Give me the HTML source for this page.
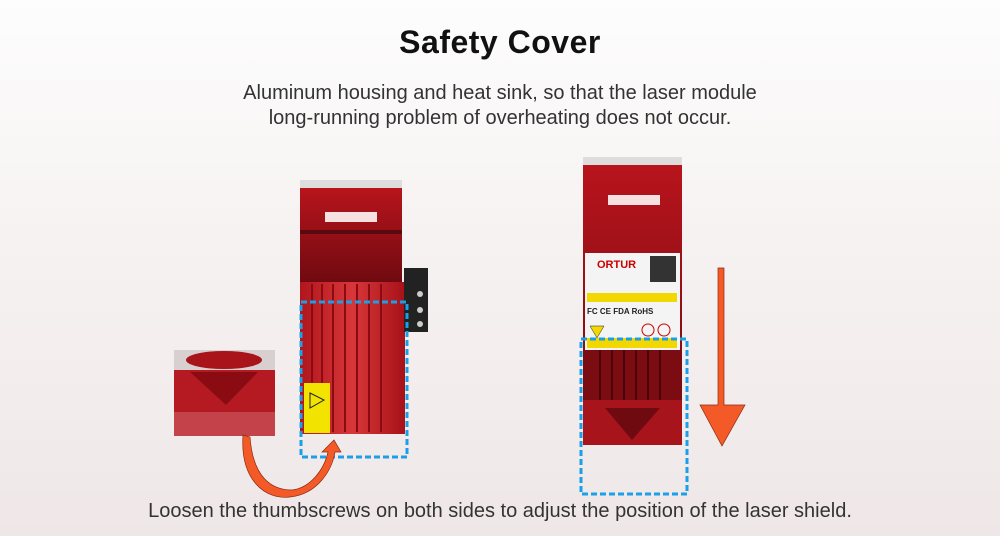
<!DOCTYPE html>
<html><head><style>
html,body{margin:0;padding:0}
body{width:1000px;height:536px;overflow:hidden;background:linear-gradient(#fdfdfd 0%,#f7f3f3 40%,#efe7e7 100%);font-family:"Liberation Sans",sans-serif;position:relative}
.t{position:absolute;left:0;width:1000px;text-align:center;color:#222}
</style></head><body>
<div class="t" style="top:24px;font-size:32px;font-weight:bold;color:#111;letter-spacing:0.5px">Safety Cover</div>
<div class="t" style="top:81px;font-size:20px;line-height:25px;color:#333">Aluminum housing and heat sink, so that the laser module<br>long-running problem of overheating does not occur.</div>
<div class="t" style="top:500px;font-size:20px;color:#333">Loosen the thumbscrews on both sides to adjust the position of the laser shield.</div>
<svg width="1000" height="536" style="position:absolute;left:0;top:0">
<defs>
<linearGradient id="hs" x1="0" x2="1"><stop offset="0" stop-color="#b0161c"/><stop offset=".5" stop-color="#d8373a"/><stop offset="1" stop-color="#a61218"/></linearGradient>
<linearGradient id="gl" x1="0" y1="0" x2="0" y2="1"><stop offset="0" stop-color="#b8141c"/><stop offset="1" stop-color="#6e0a10"/></linearGradient>
</defs>
<!-- left module -->
<rect x="300" y="180" width="102" height="10" fill="#ddd"/>
<rect x="300" y="188" width="102" height="96" fill="url(#gl)"/>
<rect x="325" y="212" width="52" height="10" fill="#f7e0e0"/>
<rect x="300" y="230" width="102" height="4" fill="#5a0a0e"/>
<rect x="300" y="282" width="105" height="152" fill="url(#hs)"/>
<g stroke="#8a0c12" stroke-width="2"><line x1="312" y1="284" x2="312" y2="432"/><line x1="322" y1="284" x2="322" y2="432"/><line x1="333" y1="284" x2="333" y2="432"/><line x1="345" y1="284" x2="345" y2="432"/><line x1="357" y1="284" x2="357" y2="432"/><line x1="369" y1="284" x2="369" y2="432"/><line x1="381" y1="284" x2="381" y2="432"/></g>
<rect x="404" y="268" width="24" height="64" fill="#222"/>
<circle cx="420" cy="294" r="3" fill="#ccc"/><circle cx="420" cy="310" r="3" fill="#ccc"/><circle cx="420" cy="324" r="3" fill="#ccc"/>
<rect x="304" y="383" width="26" height="50" fill="#f2e400"/>
<polygon points="310,393 324,400 310,408" fill="none" stroke="#222"/>
<!-- small cap -->
<rect x="174" y="350" width="101" height="86" fill="#b51a22"/>
<rect x="174" y="350" width="101" height="20" fill="#d8d0d0"/>
<ellipse cx="224" cy="360" rx="38" ry="9" fill="#a8141a"/>
<polygon points="190,372 258,372 226,405" fill="#8a0c12"/>
<rect x="174" y="412" width="101" height="24" fill="#c4424a"/>
<!-- right module -->
<rect x="583" y="157" width="99" height="10" fill="#ddd"/>
<rect x="583" y="165" width="99" height="280" fill="url(#gl)"/>
<rect x="608" y="195" width="52" height="10" fill="#f7e0e0"/>
<rect x="583" y="350" width="99" height="58" fill="#7a0c12"/>
<g stroke="#4a0508" stroke-width="2"><line x1="600" y1="350" x2="600" y2="400"/><line x1="612" y1="350" x2="612" y2="400"/><line x1="624" y1="350" x2="624" y2="400"/><line x1="636" y1="350" x2="636" y2="400"/><line x1="648" y1="350" x2="648" y2="400"/><line x1="660" y1="350" x2="660" y2="400"/></g>
<rect x="583" y="400" width="99" height="45" fill="#a8141c"/>
<polygon points="605,408 660,408 632,440" fill="#6e0a10"/>
<rect x="585" y="253" width="95" height="97" fill="#f4f4f4"/>
<rect x="587" y="293" width="90" height="9" fill="#f2d800"/>
<rect x="587" y="338" width="90" height="10" fill="#f2d800"/>
<text x="597" y="268" font-size="11" font-weight="bold" fill="#c00">ORTUR</text>
<rect x="650" y="256" width="26" height="26" fill="#333"/>
<text x="587" y="314" font-size="8" font-weight="bold" fill="#222">FC CE FDA RoHS</text>
<polygon points="597,338 590,326 604,326" fill="#f2d800" stroke="#222" stroke-width=".5"/>
<circle cx="648" cy="330" r="6" fill="none" stroke="#c00"/><circle cx="664" cy="330" r="6" fill="none" stroke="#c00"/>
<!-- dashed boxes -->
<rect x="301" y="302" width="106" height="155" fill="none" stroke="#1aa0e8" stroke-width="3" stroke-dasharray="6,3"/>
<rect x="581" y="339" width="106" height="155" fill="none" stroke="#1aa0e8" stroke-width="3" stroke-dasharray="6,3"/>
<!-- down arrow -->
<polygon points="718,268 724,268 724,405 745,405 722,446 700,405 718,405" fill="#f45a28" stroke="#8a2a10" stroke-width=".7"/>
<!-- curved arrow -->
<path d="M243,435 C240,480 265,500 290,497 C318,494 332,470 335,452 L341,452 L334,440 L322,452 L328,452 C324,470 310,488 292,490 C272,490 253,478 250,437 Z" fill="#f45a28" stroke="#8a2a10" stroke-width=".7"/>
</svg>
</body></html>
